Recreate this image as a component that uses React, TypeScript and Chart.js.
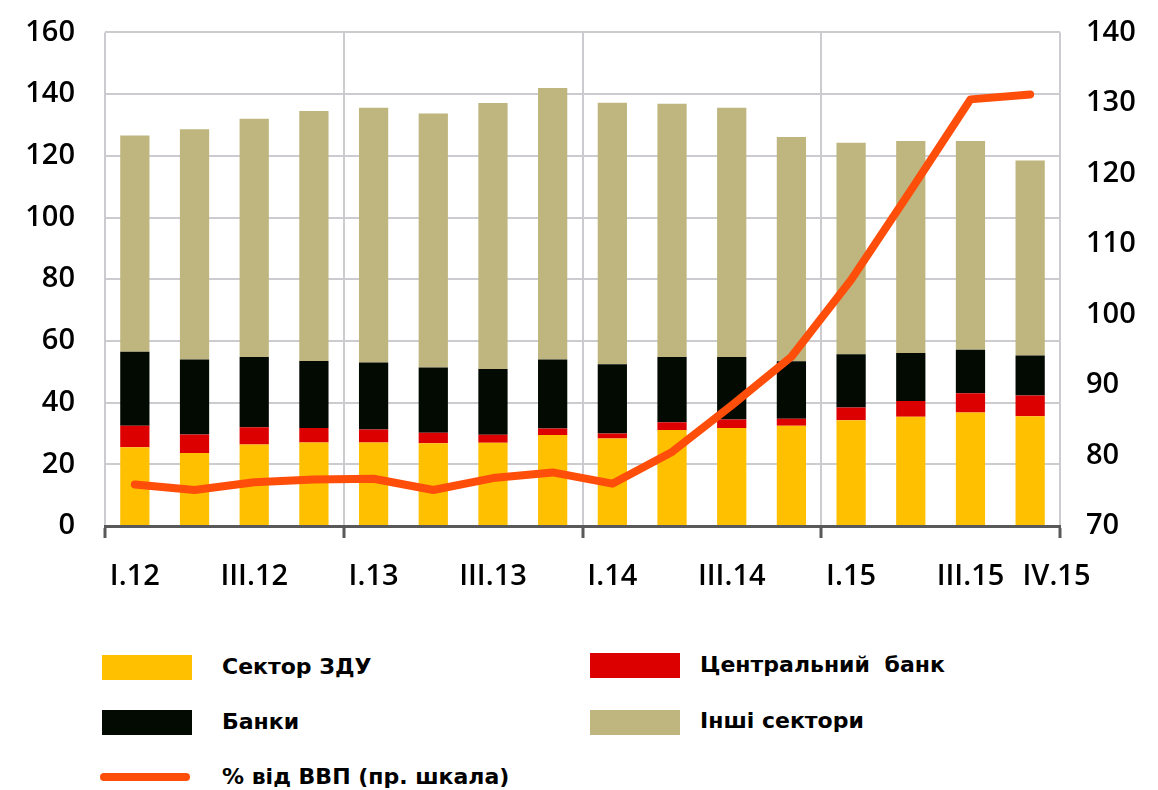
import React, { useEffect, useRef } from "react";
import { Chart, registerables } from "chart.js";

Chart.register(...registerables);

const categories = [
  "I.12", "II.12", "III.12", "IV.12",
  "I.13", "II.13", "III.13", "IV.13",
  "I.14", "II.14", "III.14", "IV.14",
  "I.15", "II.15", "III.15", "IV.15",
];

const sectorZDU = [25.5, 23.7, 26.4, 27.1, 27.1, 26.8, 27.0, 29.5, 28.4, 31.1, 31.8, 32.5, 34.3, 35.4, 36.8, 35.6];
const centralBank = [7.0, 6.0, 5.6, 4.7, 4.2, 3.4, 2.6, 2.1, 1.6, 2.5, 2.7, 2.3, 4.1, 5.1, 6.2, 6.7];
const banks = [24.0, 24.3, 22.8, 21.7, 21.7, 21.2, 21.3, 22.4, 22.4, 21.2, 20.3, 18.6, 17.3, 15.6, 14.1, 13.0];
const otherSectors = [70.1, 74.6, 77.2, 81.0, 82.6, 82.3, 86.2, 88.0, 84.8, 82.1, 80.8, 72.7, 68.5, 68.7, 67.7, 63.2];
const gdpShare = [75.9, 75.1, 76.2, 76.6, 76.7, 75.1, 76.8, 77.6, 76.0, 80.5, 87.1, 94.0, 104.9, 117.6, 130.5, 131.2];

const shownLabelIdx = [0, 2, 4, 6, 8, 10, 12, 14, 15];

const C_YELLOW = "#FFC000";
const C_RED = "#DC0000";
const C_BLACK = "#030A02";
const C_KHAKI = "#BEB67E";
const C_LINE = "#FF4D0A";
const C_GRID = "#CBCBD0";
const C_AXIS = "#595959";

const TICK_FONT = { family: "'Open Sans', Lato, sans-serif", size: 29, weight: "600" };

const CANVAS_TOP = -15;
const CANVAS_H = 625;

export default function App() {
  const ref = useRef<HTMLCanvasElement>(null);

  useEffect(() => {
    if (!ref.current) return;
    const chart = new Chart(ref.current, {
      data: {
        labels: categories,
        datasets: [
          { type: "line", label: "% від ВВП (пр. шкала)", data: gdpShare, yAxisID: "y1", borderColor: C_LINE, backgroundColor: C_LINE, borderWidth: 8, pointRadius: 0, tension: 0, borderCapStyle: "round", borderJoinStyle: "round", order: 0 },
          { type: "bar", label: "Сектор ЗДУ", data: sectorZDU, backgroundColor: C_YELLOW, yAxisID: "y", stack: "s", order: 1 },
          { type: "bar", label: "Центральний банк", data: centralBank, backgroundColor: C_RED, yAxisID: "y", stack: "s", order: 1 },
          { type: "bar", label: "Банки", data: banks, backgroundColor: C_BLACK, yAxisID: "y", stack: "s", order: 1 },
          { type: "bar", label: "Інші сектори", data: otherSectors, backgroundColor: C_KHAKI, yAxisID: "y", stack: "s", order: 1 },
        ] as any,
      },
      options: {
        responsive: false,
        animation: false,
        layout: { padding: { top: 17, left: 0, right: 0, bottom: 0 } },
        plugins: { legend: { display: false }, tooltip: { enabled: false } },
        datasets: { bar: { barPercentage: 0.49, categoryPercentage: 1 } } as any,
        scales: {
          x: {
            stacked: true,
            offset: true,
            grid: {
              offset: true,
              color: (ctx: any) => (ctx.index === undefined || ctx.index % 4 === 0 ? C_GRID : "rgba(0,0,0,0)"),
              lineWidth: 2,
              tickLength: 12,
              tickColor: (ctx: any) => (ctx.index === undefined || ctx.index % 4 === 0 ? C_AXIS : "rgba(0,0,0,0)"),
              tickWidth: 3,
            },
            border: { display: true, color: C_AXIS, width: 3 },
            ticks: {
              autoSkip: false,
              maxRotation: 0,
              minRotation: 0,
              color: "#000",
              font: TICK_FONT,
              padding: 21,
              callback: (_v: any, i: number) =>
                shownLabelIdx.includes(i) ? (i === 15 ? "       " + categories[i] : categories[i]) : "",
            },
            afterFit: (s: any) => { s.height = 84; },
          },
          y: {
            stacked: true,
            position: "left",
            min: 0,
            max: 160,
            ticks: { stepSize: 20, color: "#000", font: TICK_FONT, padding: 30 },
            grid: { color: C_GRID, lineWidth: 2, drawTicks: false },
            border: { display: false },
            afterFit: (s: any) => { s.width = 105; },
          },
          y1: {
            position: "right",
            min: 70,
            max: 140,
            ticks: { stepSize: 10, color: "#000", font: TICK_FONT, padding: 26 },
            grid: { drawOnChartArea: false, drawTicks: false },
            border: { display: false },
            afterFit: (s: any) => { s.width = 1158 - 1060; },
          },
        },
      } as any,
    });
    return () => chart.destroy();
  }, []);

  const legendFont: React.CSSProperties = {
    position: "absolute",
    fontFamily: "'DejaVu Sans', sans-serif",
    fontWeight: "bold",
    fontSize: 22,
    color: "#000",
    lineHeight: "26px",
    whiteSpace: "pre",
  };
  const swatch = (left: number, top: number, color: string, h = 25): React.CSSProperties => ({
    position: "absolute", left, top, width: 90, height: h, background: color,
  });

  return (
    <div style={{ position: "absolute", left: 0, top: 0, width: 1158, height: 790, background: "#fff", overflow: "hidden" }}>
      <canvas ref={ref} width={1158} height={CANVAS_H} style={{ position: "absolute", left: 0, top: CANVAS_TOP, width: 1158, height: CANVAS_H }} />
      <div style={swatch(102, 655, C_YELLOW)} />
      <div style={{ ...legendFont, left: 222, top: 654 }}>Сектор ЗДУ</div>
      <div style={swatch(590, 653, C_RED)} />
      <div style={{ ...legendFont, left: 700, top: 652, wordSpacing: 7 }}>Центральний банк</div>
      <div style={swatch(102, 710, C_BLACK)} />
      <div style={{ ...legendFont, left: 222, top: 709 }}>Банки</div>
      <div style={swatch(590, 710, C_KHAKI)} />
      <div style={{ ...legendFont, left: 700, top: 708 }}>Інші сектори</div>
      <div style={{ position: "absolute", left: 100, top: 773, width: 90, height: 8, borderRadius: 4, background: C_LINE }} />
      <div style={{ ...legendFont, left: 222, top: 764 }}>% від ВВП (пр. шкала)</div>
    </div>
  );
}
